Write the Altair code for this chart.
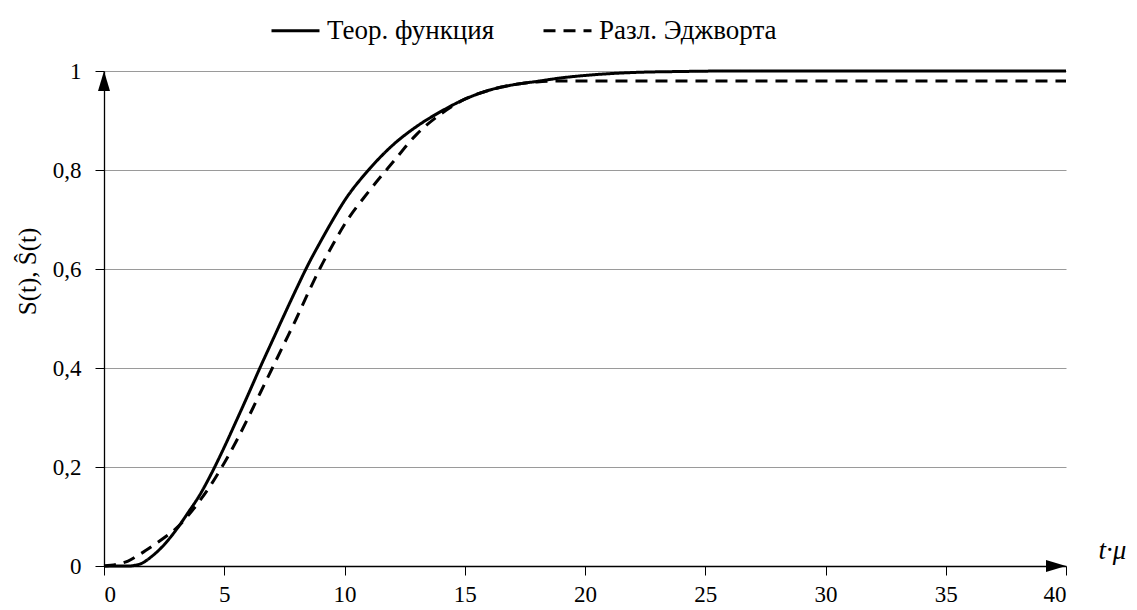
import altair as alt
import pandas as pd

# Theoretical function (solid)
theor_x = [0, 1, 1.5, 2, 2.5, 3, 3.5, 4, 4.5, 5, 5.5, 6, 6.5, 7, 7.5, 8, 8.5, 9, 9.5, 10,
           11, 12, 13, 14, 15, 16, 17, 18, 19, 20, 22, 24, 26, 30, 35, 40]
theor_y = [0, 0, 0.004, 0.02, 0.043, 0.073, 0.108, 0.145, 0.19, 0.24, 0.293, 0.347, 0.402,
           0.455, 0.508, 0.56, 0.61, 0.655, 0.698, 0.738, 0.8, 0.85, 0.888, 0.918, 0.943,
           0.961, 0.972, 0.979, 0.986, 0.991, 0.997, 0.999, 1, 1, 1, 1]

# Edgeworth expansion (dashed)
edge_x = [0, 0.5, 1, 1.5, 2, 2.5, 3, 3.5, 4, 4.5, 5, 5.5, 6, 6.5, 7, 7.5, 8, 8.5, 9, 9.5, 10,
          11, 12, 13, 14, 15, 16, 17, 18, 19, 20, 25, 30, 35, 40]
edge_y = [0, 0.003, 0.01, 0.024, 0.04, 0.057, 0.076, 0.102, 0.133, 0.168, 0.208, 0.252,
          0.3, 0.35, 0.4, 0.45, 0.5, 0.553, 0.603, 0.648, 0.69, 0.756, 0.815, 0.872, 0.913,
          0.943, 0.961, 0.972, 0.978, 0.98, 0.98, 0.98, 0.98, 0.98, 0.98]

series_names = ["Теор. функция", "Разл. Эджворта"]
x_ticks = [0, 5, 10, 15, 20, 25, 30, 35, 40]
y_ticks = [0, 0.2, 0.4, 0.6, 0.8, 1]
x_max = 40
y_max = 1

df = pd.concat([
    pd.DataFrame({"x": theor_x, "y": theor_y, "s": series_names[0]}),
    pd.DataFrame({"x": edge_x, "y": edge_y, "s": series_names[1]}),
])

FONT = "Times New Roman, Liberation Serif, DejaVu Serif, serif"

xscale = alt.Scale(domain=[0, x_max], nice=False, zero=True)
yscale = alt.Scale(domain=[0, y_max], nice=False)

lines = alt.Chart(df).mark_line(color="black", strokeWidth=3, interpolate="monotone").encode(
    x=alt.X("x:Q", scale=xscale, axis=alt.Axis(
        values=x_ticks, grid=False, title="t·μ", titleFontStyle="italic",
        titleFontWeight="normal", titleFontSize=27,
        titleX=1008, titleY=-8, titleAlign="center", titleBaseline="alphabetic",
        labelFontSize=23, labelColor="black", labelPadding=8,
        tickSize=9, tickColor="black", domainColor="black", domainWidth=1.3,
        labelExpr="replace(format(datum.value, '.1~f'), '.', ',')")),
    y=alt.Y("y:Q", scale=yscale, axis=alt.Axis(
        values=y_ticks, grid=True, gridColor="#9a9a9a", gridWidth=1,
        title="S(t), Ŝ(t)", titleFontSize=25, titleFontWeight="normal",
        titleAngle=270, titleX=-77, titleY=200, titleAlign="center", titleBaseline="middle",
        labelFontSize=23, labelColor="black", labelPadding=14,
        tickSize=9, tickColor="black", domainColor="black", domainWidth=1.3,
        labelExpr="replace(format(datum.value, '.1~f'), '.', ',')")),
    strokeDash=alt.StrokeDash("s:N", scale=alt.Scale(domain=series_names, range=[[1, 0], [12, 8]]),
                              legend=alt.Legend(
                                  title=None, orient="none", direction="horizontal",
                                  legendX=166, legendY=-66,
                                  symbolType="stroke", symbolSize=2304, symbolStrokeWidth=3,
                                  symbolStrokeColor="black",
                                  labelFontSize=27, labelColor="black",
                                  labelOffset=6, columnPadding=42, labelLimit=400)),
)

arrow_y = alt.Chart(pd.DataFrame({"x": [0], "y": [y_max]})).mark_point(
    shape="M0,0L0.6,2L-0.6,2Z", size=400, filled=True, color="black", opacity=1, strokeWidth=0
).encode(x=alt.X("x:Q", scale=xscale), y=alt.Y("y:Q", scale=yscale))

arrow_x = alt.Chart(pd.DataFrame({"x": [x_max], "y": [0]})).mark_point(
    shape="M0,0L-2,-0.6L-2,0.6Z", size=400, filled=True, color="black", opacity=1, strokeWidth=0
).encode(x=alt.X("x:Q", scale=xscale), y=alt.Y("y:Q", scale=yscale))

chart = alt.layer(lines, arrow_y, arrow_x).properties(
    width=962, height=495,
    autosize=alt.AutoSizeParams(type="none"),
    padding={"left": 104, "top": 71, "right": 71, "bottom": 44},
    background="white",
).configure(font=FONT).configure_axis(labelFont=FONT, titleFont=FONT).configure_legend(
    labelFont=FONT
).configure_view(stroke=None)

chart.save("out.html", embed_options={"renderer": "svg", "actions": False})
